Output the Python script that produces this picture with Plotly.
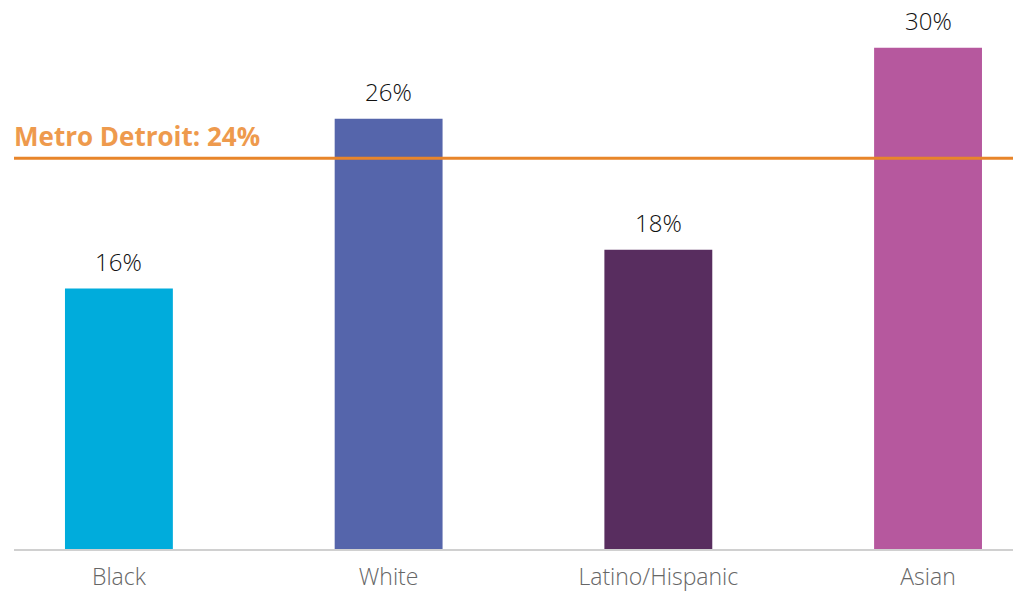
import plotly.graph_objects as go

categories = ["Black", "White", "Latino/Hispanic", "Asian"]
values = [15.8, 26.1, 18.15, 30.4]
labels = ["16%", "26%", "18%", "30%"]
colors = ["#00ACDC", "#5565AB", "#582D5F", "#B6589E"]
metro_value = 23.7
metro_label = "Metro Detroit: 24%"

x = list(range(len(categories)))

fig = go.Figure()
fig.add_trace(go.Bar(x=x, y=values, marker=dict(color=colors, line=dict(width=0)),
                     width=0.40, hoverinfo="skip"))

for xi, v, t in zip(x, values, labels):
    fig.add_annotation(x=xi, y=v, text=t, showarrow=False, yanchor="bottom", yshift=9,
                       font=dict(family="Open Sans", size=24, weight=300, color="#111111"))

fig.add_shape(type="line", xref="paper", x0=0, x1=1, yref="y", y0=metro_value, y1=metro_value,
              line=dict(color="#E8852A", width=3), layer="above")
fig.add_annotation(xref="paper", x=0, y=metro_value, text="<b>" + metro_label + "</b>", showarrow=False,
                   xanchor="left", yanchor="bottom", yshift=2, xshift=-2,
                   font=dict(family="Open Sans", size=26, color="#EE9A4D"))

fig.update_layout(
    width=1013, height=593,
    margin=dict(l=14, r=0, t=0, b=43.5),
    paper_bgcolor="white", plot_bgcolor="white",
    showlegend=False,
    xaxis=dict(range=[-0.389, 3.315], tickmode="array", tickvals=x, ticktext=categories,
               showgrid=False, zeroline=False, showline=True, linecolor="#D0D0D0", linewidth=2,
               ticks="", ticklabelstandoff=6,
               tickfont=dict(family="Open Sans", size=23, weight=300, color="#666666"), fixedrange=True),
    yaxis=dict(range=[0, 33.3], visible=False, fixedrange=True),
)

fig.write_html("out.html", config={"displayModeBar": False, "staticPlot": True},
               post_script="document.body.style.margin='0';document.body.style.overflow='hidden';")
